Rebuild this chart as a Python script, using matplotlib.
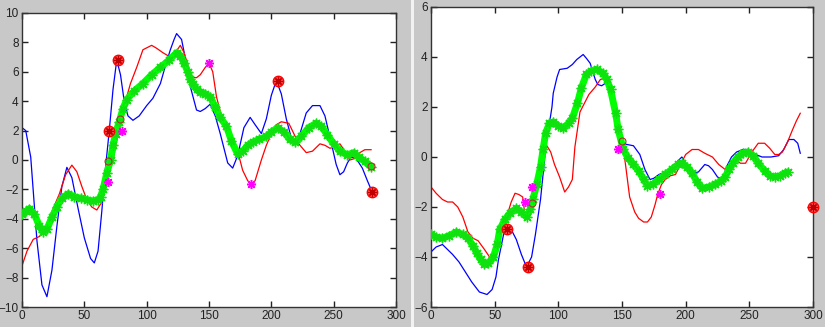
import numpy as np
import matplotlib
matplotlib.use("Agg")
import matplotlib.pyplot as plt
from matplotlib.patches import Rectangle

# ---- left panel data ----
l_blue_x = [0, 3, 7, 12, 16, 20, 24, 28, 32, 36, 40, 45, 50, 55, 58, 61, 64, 67, 70, 73, 76, 79, 82, 85, 89,
            94, 100, 105, 111, 115, 119, 122, 124, 128, 132, 135, 140, 143, 147, 151, 155, 159, 165, 169, 173,
            178, 183, 187, 192, 196, 200, 204, 208, 212, 216, 219, 223, 228, 233, 239, 243, 248, 252, 255,
            258, 261, 264, 268, 273, 277, 281]
l_blue_y = [2.2, 2.0, 0.2, -5.5, -8.5, -9.3, -7.5, -4.5, -1.8, -0.5, -1.2, -3.3, -5.3, -6.7, -7.0, -6.2, -3.5,
            -0.5, 2.0, 4.8, 6.8, 5.8, 4.0, 3.0, 2.7, 3.0, 3.7, 4.2, 5.2, 6.4, 7.5, 8.2, 8.6, 8.2, 6.5, 5.0,
            3.4, 3.3, 3.5, 3.8, 3.0, 1.8, -0.2, -0.55, 0.3, 2.2, 2.9, 2.4, 1.8, 2.8, 4.4, 5.4, 4.5, 2.8,
            1.5, 1.1, 1.8, 3.2, 3.7, 3.7, 3.0, 1.2, -0.3, -1.0, -0.8, -0.2, 0.2, 0.1, -0.55, -1.4, -2.2]

l_red_x = [0, 4, 9, 14, 18, 22, 26, 30, 35, 40, 44, 48, 52, 56, 60, 63, 66, 70, 73, 76, 79, 83, 87, 92, 97,
           104, 108, 113, 119, 123, 127, 130, 134, 137, 140, 143, 147, 150, 153, 156, 160, 164, 169, 173,
           177, 181, 184, 187, 192, 196, 200, 204, 208, 214, 218, 222, 228, 233, 239, 243, 247, 251, 255,
           259, 263, 267, 271, 275, 280]
l_red_y = [-7.2, -6.2, -5.4, -5.2, -4.7, -3.9, -3.1, -2.3, -1.0, -0.35, -0.8, -1.8, -2.7, -3.2, -3.4, -3.0,
           -2.0, -0.8, 0.0, 1.3, 2.5, 4.0, 5.2, 6.3, 7.5, 7.8, 7.6, 7.3, 7.0, 7.3, 7.8, 7.3, 6.2, 5.6, 5.6,
           5.8, 6.3, 6.6, 6.0, 4.3, 3.0, 2.0, 1.4, 0.6, -0.7, -1.4, -1.7, -1.4, 0.0, 1.0, 1.8, 2.4, 2.6,
           2.5, 1.8, 1.1, 0.5, 0.6, 1.1, 1.0, 0.8, 0.9, 1.1, 0.6, 0.0, 0.1, 0.5, 0.7, 0.7]

l_green_x = [0, 3, 6, 10, 14, 17, 20, 24, 28, 32, 37, 42, 47, 52, 57, 61, 63, 65, 68, 71, 73, 75, 78, 81, 84,
             90, 97, 104, 111, 118, 124, 127, 130, 133, 135, 137, 140, 143, 147, 151, 155, 159, 164, 168,
             173, 177, 181, 185, 190, 196, 200, 205, 210, 215, 219, 224, 230, 236, 240, 245, 250, 255, 261,
             266, 270, 275, 280]
l_green_y = [-3.7, -3.5, -3.3, -3.7, -4.5, -4.9, -4.7, -3.9, -3.2, -2.6, -2.3, -2.5, -2.6, -2.7, -2.8, -2.7,
             -2.5, -2.0, -0.9, 0.0, 1.0, 1.8, 2.6, 3.5, 4.1, 4.7, 5.2, 5.8, 6.3, 6.8, 7.3, 7.1, 6.6, 6.0, 5.5,
             5.2, 4.8, 4.6, 4.5, 4.3, 3.6, 2.9, 2.3, 1.3, 0.4, 0.6, 1.0, 1.2, 1.4, 1.6, 1.9, 2.2, 1.9, 1.4,
             1.2, 1.6, 2.2, 2.5, 2.3, 1.7, 1.1, 0.6, 0.35, 0.5, 0.2, -0.1, -0.45]

l_circ_x = [70, 77, 205, 281]
l_circ_y = [2.0, 6.8, 5.4, -2.2]
l_small_x = [69, 79, 280]
l_small_y = [-0.1, 2.8, -0.4]
l_mag_x = [69, 80, 150, 184]
l_mag_y = [-1.5, 2.0, 6.6, -1.65]

# ---- right panel data ----
r_blue_x = [0, 4, 9, 13, 17, 22, 27, 32, 38, 44, 48, 51, 53, 57, 60, 63, 67, 71, 75, 79, 82, 86, 89, 91, 93,
            95, 96, 99, 101, 107, 111, 114.5, 119.5, 122, 125, 129, 131, 134, 137, 139, 143, 147, 150, 154,
            159, 164, 168, 172, 175, 179, 184, 189, 193, 197, 201, 205, 210, 215, 218, 221, 225, 229, 232,
            236, 240, 245, 249, 255, 260, 267, 273, 277, 281, 285, 288, 290]
r_blue_y = [-3.8, -3.6, -3.5, -3.7, -3.9, -4.2, -4.6, -5.0, -5.4, -5.5, -5.3, -4.8, -4.1, -3.1, -2.8, -2.9,
            -3.3, -3.9, -4.4, -4.0, -3.1, -1.7, -0.2, 0.8, 1.35, 2.0, 2.55, 3.2, 3.5, 3.55, 3.7, 3.9, 4.1,
            3.95, 3.75, 3.1, 2.9, 2.85, 2.95, 2.8, 2.0, 1.0, 0.55, 0.5, 0.45, 0.1, -0.5, -0.9, -0.85, -0.7,
            -0.6, -0.4, -0.2, 0.0, -0.3, -0.65, -0.6, -0.3, -0.35, -0.5, -0.8, -0.9, -0.4, 0.0, 0.2, 0.3,
            0.3, 0.1, 0.0, 0.0, 0.05, 0.3, 0.7, 0.7, 0.55, 0.15]

r_red_x = [0, 4, 9, 13, 17, 21, 25, 29, 33, 37, 42, 46, 50, 52, 54, 57, 60, 63, 66, 69, 72, 74, 76, 78, 82,
           86, 89, 91, 94, 97, 101, 105, 108, 111, 113, 117, 121, 124, 129, 133, 136, 139, 141, 144, 147,
           150, 152, 154, 156, 160, 163, 167, 170, 173, 176, 178, 181, 184, 188, 192, 196, 200, 205, 210,
           215, 221, 226, 231, 235, 239, 243, 247, 252, 257, 262, 266, 270, 273, 276, 280, 284, 287, 290]
r_red_y = [-1.2, -1.45, -1.7, -1.8, -1.8, -2.0, -2.4, -3.0, -3.25, -3.35, -3.7, -4.0, -4.05, -3.6, -2.9, -2.6,
           -2.3, -1.8, -1.45, -1.5, -1.6, -2.4, -2.4, -2.0, -1.3, -0.5, 0.2, 0.45, 0.2, -0.3, -0.8, -1.4,
           -1.2, -0.9, 0.4, 1.8, 2.2, 2.5, 2.8, 3.1, 3.15, 3.0, 2.7, 1.8, 0.95, 0.6, 0.0, -0.8, -1.6, -2.2,
           -2.45, -2.6, -2.6, -2.4, -1.9, -1.5, -1.1, -0.9, -0.75, -0.7, -0.3, 0.1, 0.3, 0.3, 0.15, 0.0,
           -0.3, -0.5, -0.3, -0.1, -0.25, -0.25, 0.2, 0.55, 0.55, 0.35, 0.1, 0.1, 0.2, 0.6, 1.1, 1.45, 1.75]

r_green_x = [0, 4, 9, 14, 20, 25, 29, 33, 36, 39, 42, 45, 49, 52, 54, 58, 62, 67, 71, 75, 78, 80, 83, 86, 88,
             90, 93, 96, 100, 104, 108, 111, 115, 118, 122, 126, 130, 135, 138, 141, 145, 147, 151, 155,
             159, 163, 167, 170, 174, 179, 184, 189, 194, 197, 201, 205, 209, 213, 218, 223, 228, 231, 234,
             237, 241, 245, 249, 253, 257, 262, 266, 270, 274, 278, 280]
r_green_y = [-3.1, -3.2, -3.25, -3.15, -3.0, -3.1, -3.25, -3.55, -3.85, -4.1, -4.3, -4.25, -4.0, -3.5, -2.9,
             -2.5, -2.25, -2.05, -2.2, -2.4, -2.1, -1.7, -1.1, -0.4, 0.3, 0.95, 1.35, 1.4, 1.25, 1.15, 1.35,
             1.55, 2.15, 2.75, 3.3, 3.45, 3.5, 3.35, 3.1, 2.7, 1.75, 1.1, 0.3, -0.05, -0.3, -0.55, -0.9,
             -1.15, -1.1, -0.9, -0.7, -0.5, -0.3, -0.25, -0.4, -0.65, -1.0, -1.25, -1.2, -1.1, -0.95, -0.8,
             -0.5, -0.25, 0.0, 0.15, 0.2, 0.05, -0.25, -0.55, -0.75, -0.8, -0.75, -0.65, -0.6]

r_circ_x = [60, 76, 300]
r_circ_y = [-2.9, -4.4, -2.0]
r_small_x = [79, 150]
r_small_y = [-1.85, 0.65]
r_mag_x = [74, 79, 147, 180]
r_mag_y = [-1.8, -1.2, 0.3, -1.5]

xticks = [0, 50, 100, 150, 200, 250, 300]
l_yticks = list(range(-10, 11, 2))
r_yticks = list(range(-6, 7, 2))

W, H = 825, 327
ast = (8, 2, 0)  # matlab-like asterisk

fig = plt.figure(figsize=(W / 100, H / 100), dpi=100, facecolor='#c8c8c8')
plt.rcParams['font.family'] = ['Liberation Sans', 'DejaVu Sans']

# thin light separator between the two windows
fig.patches.append(Rectangle((411 / W, 0), 2.5 / W, 1, transform=fig.transFigure,
                             facecolor='#f2f2f2', edgecolor='none'))


def panel(rect, bx, by, rx, ry, gx, gy, cx, cy, sx, sy, mx, my, ylim, yticks):
    ax = fig.add_axes(rect)
    ax.set_facecolor('white')
    ax.plot(bx, by, color='#0000ff', lw=0.9)
    ax.plot(rx, ry, color='#ff0000', lw=0.9)
    ax.plot(gx, gy, color='#00ff00', lw=5, solid_capstyle='round', zorder=3)
    ax.plot(gx, gy, ls='none', marker=ast, color='#10e010', ms=7, mew=1.0, zorder=3)
    ax.plot(cx, cy, ls='none', marker='o', ms=7.5, mfc='#ff5a5a', mec='#ff0000', mew=1.0,
            zorder=5, clip_on=False)
    ax.plot(cx, cy, ls='none', marker=ast, ms=6, color='#c00000', mew=0.9, zorder=6, clip_on=False)
    ax.plot(sx, sy, ls='none', marker='o', ms=5, mfc='none', mec='#b03030', mew=0.8, zorder=5)
    ax.plot(mx, my, ls='none', marker=ast, ms=6.5, color='#ff00ff', mew=1.1, zorder=6)
    ax.set_xlim(0, 300)
    ax.set_ylim(*ylim)
    ax.set_xticks(xticks)
    ax.set_yticks(yticks)
    ax.tick_params(direction='in', length=4, width=1, top=True, right=True,
                   labelsize=8.5, colors='#222222', pad=2.5)
    for s in ax.spines.values():
        s.set_color('#333333')
        s.set_linewidth(1)
    return ax


panel([22 / W, 1 - 307 / H, 374 / W, 294 / H],
      l_blue_x, l_blue_y, l_red_x, l_red_y, l_green_x, l_green_y,
      l_circ_x, l_circ_y, l_small_x, l_small_y, l_mag_x, l_mag_y, (-10, 10), l_yticks)

panel([431 / W, 1 - 307 / H, 382 / W, 300 / H],
      r_blue_x, r_blue_y, r_red_x, r_red_y, r_green_x, r_green_y,
      r_circ_x, r_circ_y, r_small_x, r_small_y, r_mag_x, r_mag_y, (-6, 6), r_yticks)

fig.savefig('out.png', dpi=100, facecolor=fig.get_facecolor())
